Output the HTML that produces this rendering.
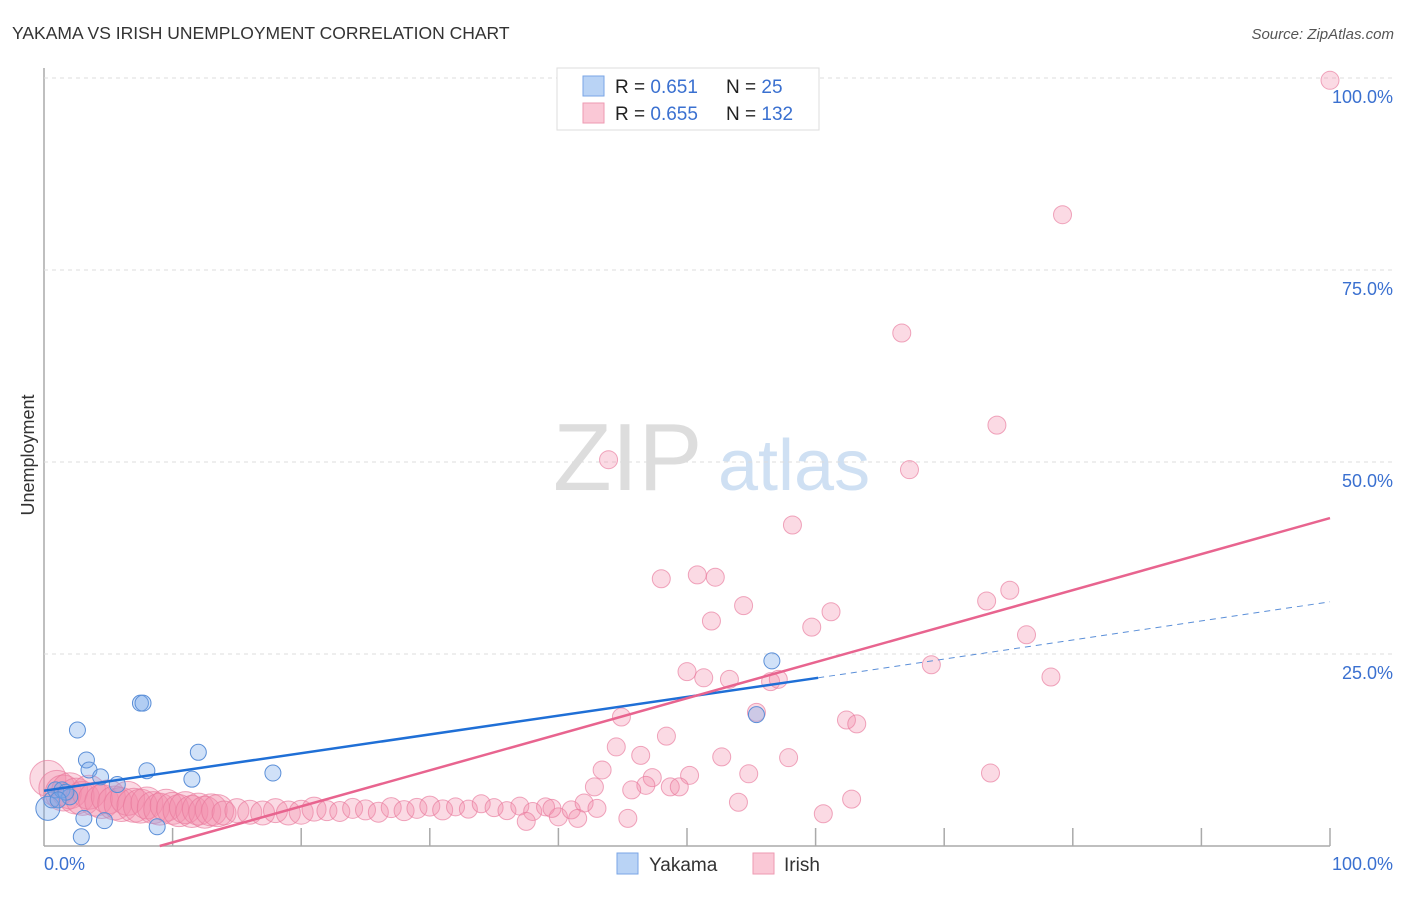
<!DOCTYPE html>
<html><head><meta charset="utf-8"><style>
body{margin:0;background:#fff;font-family:"Liberation Sans",sans-serif;}
svg text{font-family:"Liberation Sans",sans-serif;}
</style></head><body>
<svg width="1406" height="892">
<text x="12" y="39" font-size="17.5" fill="#333">YAKAMA VS IRISH UNEMPLOYMENT CORRELATION CHART</text>
<text x="1394" y="39" font-size="15" fill="#555" font-style="italic" text-anchor="end">Source: ZipAtlas.com</text>
<g><text x="553" y="490" font-size="96" fill="#ddd" font-family="Liberation Serif,serif">ZIP</text><text x="718" y="490" font-size="72" fill="#cfe0f3">atlas</text></g>
<g id="grid"></g>
<g id="pts"></g>
<g id="lines"></g>
<text transform="translate(34,455) rotate(-90)" font-size="18" fill="#333" text-anchor="middle">Unemployment</text>
<text x="44" y="870" font-size="18" fill="#3a70d0">0.0%</text>
<text x="1393" y="870" font-size="18" fill="#3a70d0" text-anchor="end">100.0%</text>
<g>
<rect x="557" y="68" width="262" height="62" fill="#fff" stroke="#ddd"/>
<rect x="583" y="76" width="21" height="20" fill="#b9d3f5" stroke="#7aa6e6"/>
<rect x="583" y="103" width="21" height="20" fill="#fac8d6" stroke="#ee9ab2"/>
<text x="615" y="93" font-size="19" fill="#222">R = <tspan fill="#3a70d0"> 0.651</tspan></text>
<text x="726" y="93" font-size="19" fill="#222">N = <tspan fill="#3a70d0">  25</tspan></text>
<text x="615" y="120" font-size="19" fill="#222">R = <tspan fill="#3a70d0">0.655</tspan></text>
<text x="726" y="120" font-size="19" fill="#222">N = <tspan fill="#3a70d0">132</tspan></text>
</g>
<g>
<rect x="617" y="853" width="21" height="21" fill="#b9d3f5" stroke="#7aa6e6"/>
<text x="649" y="871" font-size="19" fill="#333">Yakama</text>
<rect x="753" y="853" width="21" height="21" fill="#fac8d6" stroke="#ee9ab2"/>
<text x="784" y="871" font-size="19" fill="#333">Irish</text>
</g>
</svg>
<script>
const yTicks=[25,50,75,100];
const yTickLabels=["25.0%","50.0%","75.0%","100.0%"];
const xTicks=[0,10,20,30,40,50,60,70,80,90,100];
const blueX=[0.3,0.6,0.9,1.4,2,2.6,3.3,3.5,4.4,5.7,3.1,2.9,4.7,7.5,7.7,8,8.8,11.5,12,17.8,56.6,55.4,1.7,1.1];
const blueY=[4.9,6,7.3,7.3,6.4,15.1,11.2,9.9,9,8,3.6,1.2,3.3,18.6,18.6,9.8,2.5,8.7,12.2,9.5,24.1,17.1,7,6];
const pinkX=[100,79.2,66.7,74.1,67.3,43.9,58.2,48,50.8,52.2,54.4,51.9,61.2,59.7,73.3,75.1,76.4,69,78.3,50,51.3,53.3,56.5,57.1,55.4,44.9,62.4,63.2,44.5,46.4,48.4,52.7,57.9,43.4,50.2,54.8,73.6,47.3,46.8,48.7,49.4,45.7,42.8,62.8,54,60.6,45.4,
0.3,1,1.5,2,2.5,3,3.5,4,4.5,5,5.5,6,6.5,7,7.5,8,8.5,9,9.5,10,10.5,11,11.5,12,12.5,13,13.5,14,15,16,17,18,19,20,21,22,23,24,25,26,27,28,29,30,31,32,33,34,35,36,37,38,39,40,41,42,43,41.5,39.5,37.5];
const pinkY=[99.7,82.2,66.8,54.8,49,50.3,41.8,34.8,35.3,35,31.3,29.3,30.5,28.5,31.9,33.3,27.5,23.6,22,22.7,21.9,21.7,21.4,21.7,17.4,16.8,16.4,15.9,12.9,11.8,14.3,11.6,11.5,9.9,9.2,9.4,9.5,8.9,7.9,7.7,7.7,7.3,7.7,6.1,5.7,4.2,3.6,
8.8,7.5,6.9,7.2,6.5,6.2,7,6.1,5.8,6.4,5.6,5.4,6.2,5.3,5.2,5.6,5,4.8,5.3,4.9,4.6,5,4.5,4.8,4.4,4.7,4.6,4.3,4.6,4.4,4.3,4.6,4.3,4.4,4.8,4.6,4.5,4.9,4.7,4.4,5,4.6,4.9,5.2,4.7,5.1,4.8,5.5,5,4.6,5.2,4.5,5.1,3.8,4.7,5.6,4.9,3.6,4.9,3.2];
const pinkR=[];
for(let i=0;i<pinkX.length;i++){let x=pinkX[i];pinkR.push(i<47?9:(x<3?18:x<8?17:x<14?16:x<22?12:x<32?10:9));}
const blueLine=[[0,7.2],[60.2,21.9]];
const blueDash=[[60.2,21.9],[100,31.8]];
const pinkLine=[[9,0],[100,42.7]];
const X=v=>44+v*12.86, Y=v=>846-v*7.68;
const NS="http://www.w3.org/2000/svg";
function mk(t,a,p){const e=document.createElementNS(NS,t);for(const k in a)e.setAttribute(k,a[k]);p.appendChild(e);return e;}
const g=document.getElementById('grid');
const ax=mk('line',{x1:44,y1:68,x2:44,y2:846,stroke:'#aaa','stroke-width':1.5},g);


const bx=mk('line',{x1:44,y1:846,x2:1330,y2:846,stroke:'#aaa','stroke-width':1.5},g);


yTicks.forEach((t,i)=>{
 const l=mk('line',{x1:44,y1:Y(t),x2:1394,y2:Y(t),stroke:'#ddd','stroke-dasharray':'4,4'},g);
 
 
 const tx=mk('text',{x:1393,y:Y(t)+25,'font-size':18,fill:'#3a70d0','text-anchor':'end'},g);
 tx.textContent=yTickLabels[i];
 
 
});
xTicks.forEach(t=>{if(t===0)return;
 const l=mk('line',{x1:X(t),y1:828,x2:X(t),y2:846,stroke:'#aaa','stroke-width':1.5},g);
 
 
});
const p=document.getElementById('pts');
pinkX.forEach((x,i)=>{
 const c=mk('circle',{cx:X(x),cy:Y(pinkY[i]),r:pinkR[i],fill:'rgba(242,140,172,0.32)',stroke:'rgba(232,120,155,0.65)','stroke-width':1},p);
 
 
});
blueX.forEach((x,i)=>{
 const c=mk('circle',{cx:X(x),cy:Y(blueY[i]),r:i===0?12:8,fill:'rgba(120,170,235,0.35)',stroke:'#5b8fd8','stroke-width':1},p);
 
 
});
const L=document.getElementById('lines');
const b=mk('line',{x1:X(blueLine[0][0]),y1:Y(blueLine[0][1]),x2:X(blueLine[1][0]),y2:Y(blueLine[1][1]),stroke:'#1f6fd6','stroke-width':2.5},L);


const bd=mk('line',{x1:X(blueDash[0][0]),y1:Y(blueDash[0][1]),x2:X(blueDash[1][0]),y2:Y(blueDash[1][1]),stroke:'#5b8fd8','stroke-width':1,'stroke-dasharray':'6,5'},L);


const pl=mk('line',{x1:X(pinkLine[0][0]),y1:Y(pinkLine[0][1]),x2:X(pinkLine[1][0]),y2:Y(pinkLine[1][1]),stroke:'#e8648f','stroke-width':2.5},L);


</script>
</body></html>
